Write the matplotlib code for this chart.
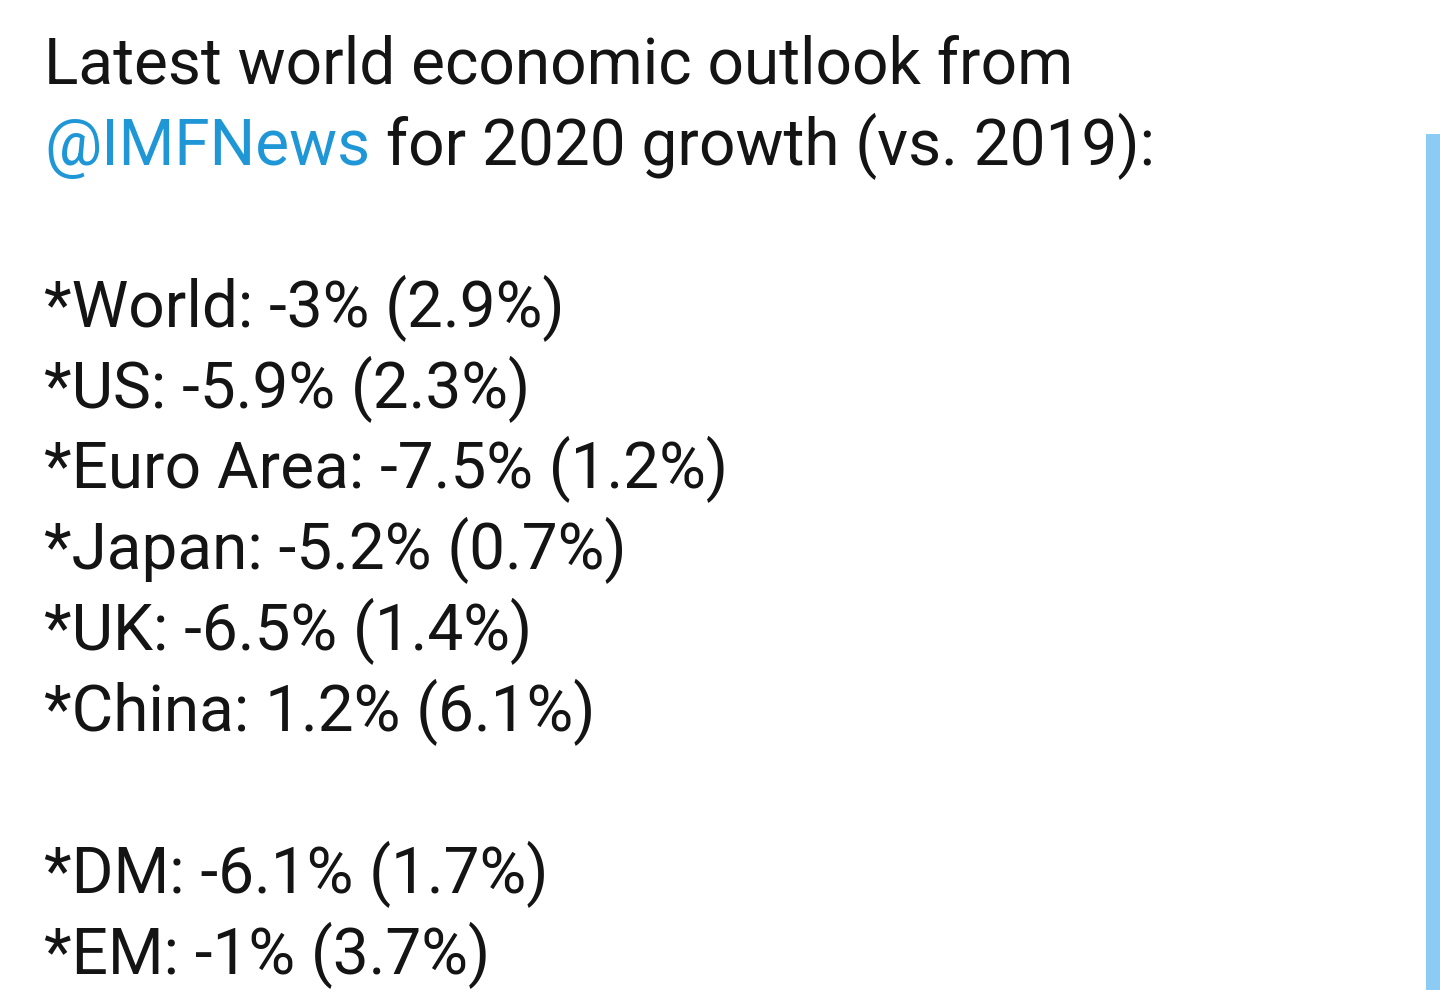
import matplotlib.pyplot as plt

# tweet text: IMF outlook, 2020 growth vs 2019
HEADLINE = "Latest world economic outlook from"
HANDLE = "@IMFNews"
HANDLE_TAIL = " for 2020 growth (vs. 2019):"

economies = ["World", "US", "Euro Area", "Japan", "UK", "China"]
growth_2020 = [-3, -5.9, -7.5, -5.2, -6.5, 1.2]
growth_2019 = [2.9, 2.3, 1.2, 0.7, 1.4, 6.1]

groups = ["DM", "EM"]
group_2020 = [-6.1, -1]
group_2019 = [1.7, 3.7]

TEXT_COLOR = "#141414"
LINK_COLOR = "#1f97d6"
BAR_COLOR = "#8ccbf3"

W, H, DPI = 1440, 990, 100
FONT_SIZE = 46
LEFT = 44
FIRST_BASELINE = 84
LINE_STEP = 80.9


def fmt(v):
    return f"{v:g}%"


def row(name, now, before):
    return f"*{name}: {fmt(now)} ({fmt(before)})"


fig = plt.figure(figsize=(W / DPI, H / DPI), dpi=DPI)
fig.patch.set_facecolor("white")
ax = fig.add_axes([0, 0, 1, 1])
ax.set_xlim(0, W)
ax.set_ylim(H, 0)
ax.axis("off")

style = dict(fontsize=FONT_SIZE, family="Roboto", va="baseline", ha="left")


def baseline(k):
    return FIRST_BASELINE + LINE_STEP * k


ax.text(LEFT, baseline(0), HEADLINE, color=TEXT_COLOR, **style)
handle = ax.text(LEFT, baseline(1), HANDLE, color=LINK_COLOR, **style)

fig.canvas.draw()
bb = handle.get_window_extent(renderer=fig.canvas.get_renderer())
x_end = ax.transData.inverted().transform((bb.x1, bb.y0))[0]
ax.text(x_end, baseline(1), HANDLE_TAIL, color=TEXT_COLOR, **style)

lines = [row(n, a, b) for n, a, b in zip(economies, growth_2020, growth_2019)]
for i, line in enumerate(lines):
    ax.text(LEFT, baseline(3 + i), line, color=TEXT_COLOR, **style)

for i, (n, a, b) in enumerate(zip(groups, group_2020, group_2019)):
    ax.text(LEFT, baseline(10 + i), row(n, a, b), color=TEXT_COLOR, **style)

# light blue scroll strip on the right edge
ax.add_patch(plt.Rectangle((1426, 134), W - 1426, H - 134,
                           facecolor=BAR_COLOR, edgecolor="none"))

fig.savefig("out.png", dpi=DPI, facecolor="white")
